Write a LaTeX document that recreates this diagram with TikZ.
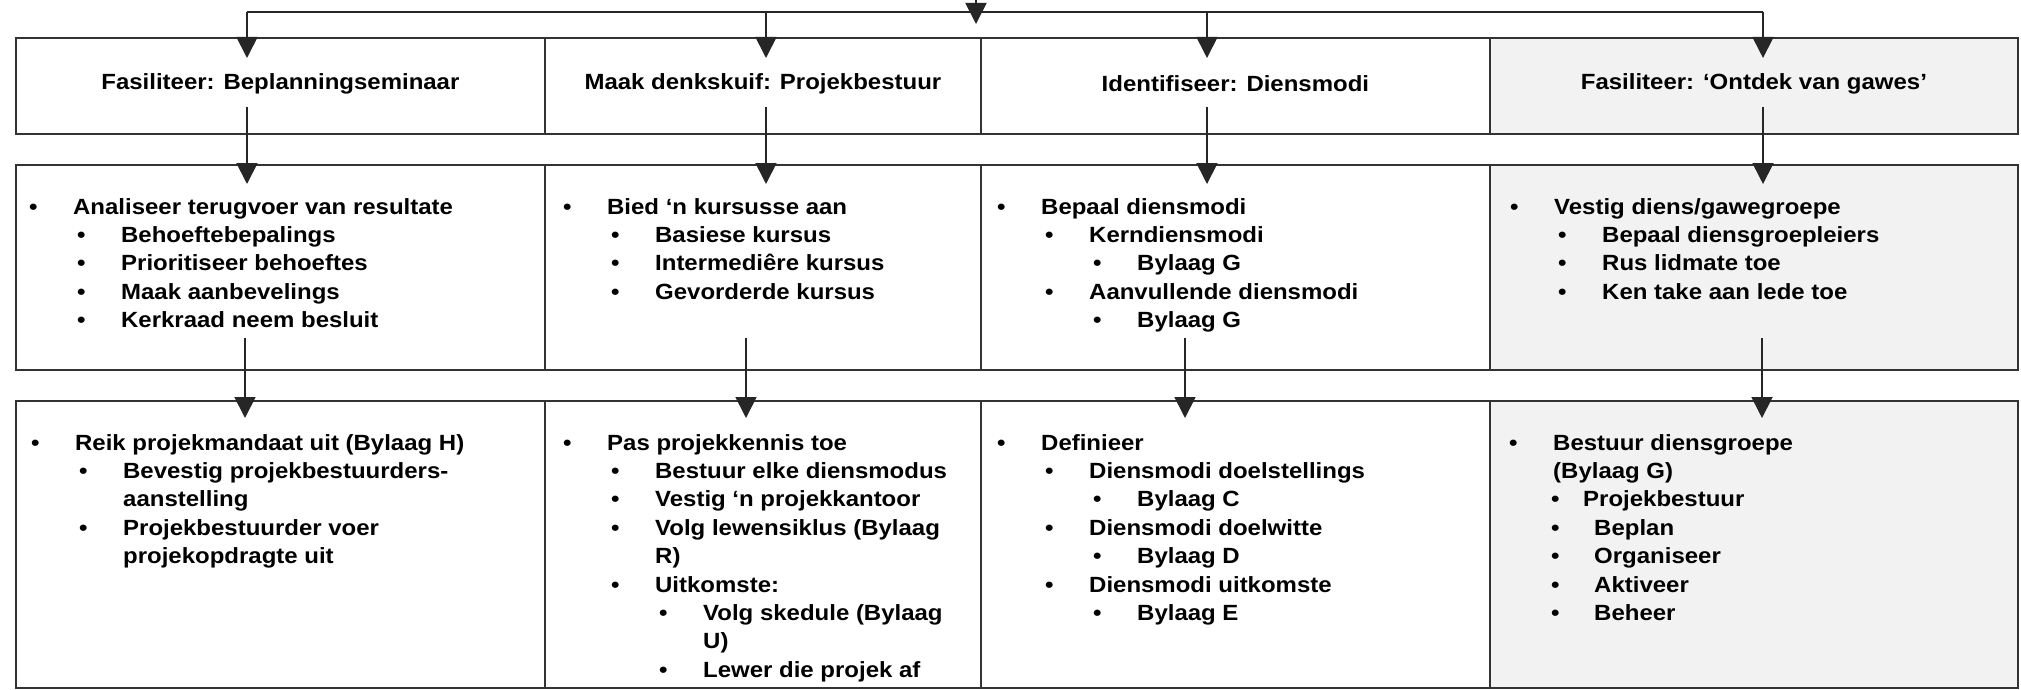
\documentclass[tikz,border=0pt]{standalone}
\usepackage{fontspec}
\setmainfont{Liberation Sans}[FakeStretch=1.09]
\usetikzlibrary{arrows.meta,calc}

% bullet line: level, text
\newcommand{\itm}[2]{\strut\hspace*{\dimexpr48pt*#1\relax}\makebox[44pt][l]{\textbullet}#2}
% continuation line without bullet
\newcommand{\cont}[2]{\strut\hspace*{\dimexpr48pt*#1+44pt\relax}#2}

\tikzset{
  cell/.style={draw=black!80, line width=1.8pt, anchor=north west, inner sep=0pt},
  head/.style={inner sep=0pt, yshift=2pt, font=\fontsize{22}{28.4}\selectfont\bfseries},
  body/.style={anchor=north west, align=left, inner sep=0pt, font=\fontsize{22}{28.4}\selectfont\bfseries},
  conn/.style={draw=black!85, line width=1.8pt},
  arr/.style={conn, -{Triangle[width=21pt,length=21pt]}}
}

\begin{document}
\begin{tikzpicture}[x=1pt,y=-1pt]
  \useasboundingbox[fill=white] (0,0) rectangle (2021,690);

  % Tabel: drie rye, vier kolomme
  \foreach \r/\top/\h in {1/37/96, 2/164/205, 3/400/287}
    \foreach \c/\left/\w/\fc in {1/15/529/white, 2/544/436/white, 3/980/509/white, 4/1489/528/black!5}
      \node[cell, fill=\fc, minimum width=\w pt, minimum height=\h pt] (c\r\c) at (\left,\top) {};

  % Opskrifte
  \node[head] (h1) at (c11) {Fasiliteer: Beplanningseminaar};
  \node[head] (h2) at (c12) {Maak denkskuif: Projekbestuur};
  \node[head] (h3) at (c13) {Identifiseer: Diensmodi};
  \node[head] (h4) at (c14) {Fasiliteer: ‘Ontdek van gawes’};

  % Tweede ry
  \node[body] (b21) at (29,194) {\itm{0}{Analiseer terugvoer van resultate}\\
    \itm{1}{Behoeftebepalings}\\ \itm{1}{Prioritiseer behoeftes}\\
    \itm{1}{Maak aanbevelings}\\ \itm{1}{Kerkraad neem besluit}};
  \node[body] (b22) at (563,194) {\itm{0}{Bied ‘n kursusse aan}\\
    \itm{1}{Basiese kursus}\\ \itm{1}{Intermediêre kursus}\\
    \itm{1}{Gevorderde kursus}};
  \node[body] (b23) at (997,194) {\itm{0}{Bepaal diensmodi}\\
    \itm{1}{Kerndiensmodi}\\ \itm{2}{Bylaag G}\\
    \itm{1}{Aanvullende diensmodi}\\ \itm{2}{Bylaag G}};
  \node[body] (b24) at (1510,194) {\itm{0}{Vestig diens/gawegroepe}\\
    \itm{1}{Bepaal diensgroepleiers}\\ \itm{1}{Rus lidmate toe}\\
    \itm{1}{Ken take aan lede toe}};

  % Derde ry
  \node[body] (b31) at (31,430) {\itm{0}{Reik projekmandaat uit (Bylaag H)}\\
    \itm{1}{Bevestig projekbestuurders-}\\ \cont{1}{aanstelling}\\
    \itm{1}{Projekbestuurder voer}\\ \cont{1}{projekopdragte uit}};
  \node[body] (b32) at (563,430) {\itm{0}{Pas projekkennis toe}\\
    \itm{1}{Bestuur elke diensmodus}\\ \itm{1}{Vestig ‘n projekkantoor}\\
    \itm{1}{Volg lewensiklus (Bylaag}\\ \cont{1}{R)}\\
    \itm{1}{Uitkomste:}\\
    \itm{2}{Volg skedule (Bylaag}\\ \cont{2}{U)}\\
    \itm{2}{Lewer die projek af}};
  \node[body] (b33) at (997,430) {\itm{0}{Definieer}\\
    \itm{1}{Diensmodi doelstellings}\\ \itm{2}{Bylaag C}\\
    \itm{1}{Diensmodi doelwitte}\\ \itm{2}{Bylaag D}\\
    \itm{1}{Diensmodi uitkomste}\\ \itm{2}{Bylaag E}};
  \node[body] (b34) at (1509,430) {\itm{0}{Bestuur diensgroepe}\\ \cont{0}{(Bylaag G)}\\
    \strut\hspace*{42pt}\makebox[32pt][l]{\textbullet}Projekbestuur\\
    \strut\hspace*{42pt}\makebox[43pt][l]{\textbullet}Beplan\\
    \strut\hspace*{42pt}\makebox[43pt][l]{\textbullet}Organiseer\\
    \strut\hspace*{42pt}\makebox[43pt][l]{\textbullet}Aktiveer\\
    \strut\hspace*{42pt}\makebox[43pt][l]{\textbullet}Beheer};

  % Bo-pyl en verdeellyn
  \coordinate (bron) at (976,0);
  \coordinate (punt) at (976,24);
  \draw[arr] (bron) -- (punt);
  \coordinate (v1) at (247,12);
  \coordinate (v2) at (766,12);
  \coordinate (v3) at (1207,12);
  \coordinate (v4) at (1763,12);
  \draw[conn] (v1) -- (v4);
  \foreach \i in {1,2,3,4}
    \draw[arr] (v\i) -- ($(v\i |- c11.north)+(0,21)$);

  % Pyle tussen rye
  \foreach \i/\x in {1/247, 2/766, 3/1207, 4/1763} {
    \coordinate (e\i) at (\x,107);
    \draw[arr] (e\i) -- ($(e\i |- c21.north)+(0,20)$);
  }
  \foreach \i/\x in {1/245, 2/746, 3/1185, 4/1762} {
    \coordinate (f\i) at (\x,338);
    \draw[arr] (f\i) -- ($(f\i |- c31.north)+(0,18)$);
  }
\end{tikzpicture}
\end{document}
